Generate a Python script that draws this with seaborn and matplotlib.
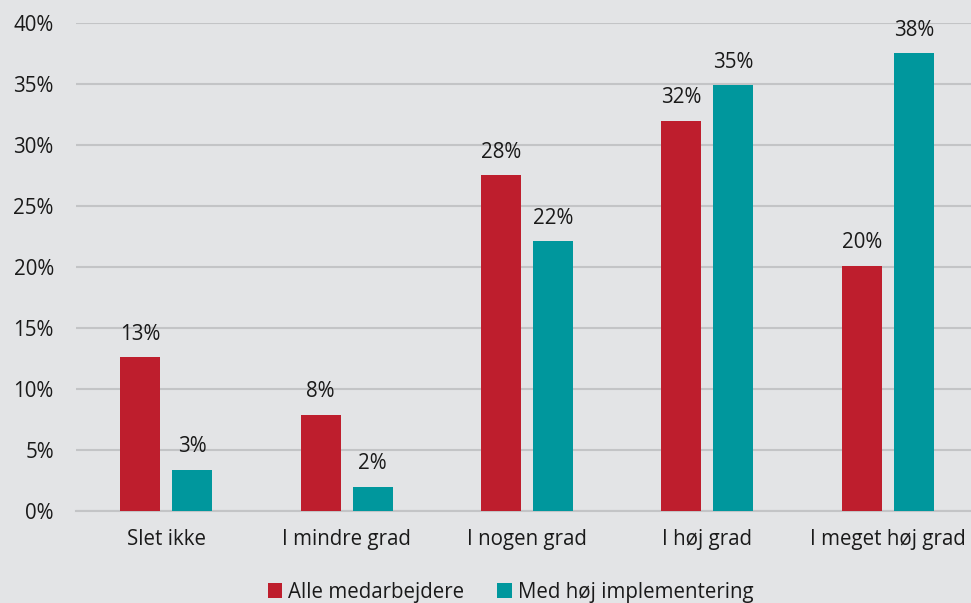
import matplotlib
matplotlib.use("Agg")
import matplotlib.pyplot as plt
import seaborn as sns
import pandas as pd
from matplotlib.patches import Patch

categories = ["Slet ikke", "I mindre grad", "I nogen grad", "I høj grad", "I meget høj grad"]
series_names = ["Alle medarbejdere", "Med høj implementering"]
alle = [12.6, 7.9, 27.5, 32.0, 20.1]
hoej = [3.4, 2.0, 22.1, 34.9, 37.5]
yticks = [0, 5, 10, 15, 20, 25, 30, 35, 40]

colors = ["#be1e2d", "#00979d"]
bg = "#e3e4e6"

df = pd.DataFrame({
    "kategori": categories * 2,
    "serie": [series_names[0]] * len(categories) + [series_names[1]] * len(categories),
    "vaerdi": alle + hoej,
})

sns.set_theme(style="white")
plt.rcParams["font.family"] = ["Open Sans", "DejaVu Sans"]

fs = 14.8
fig = plt.figure(figsize=(9.71, 6.03), dpi=100)
fig.patch.set_facecolor(bg)
ax = fig.add_axes([0.0783, 0.1526, 0.929, 0.8093])
ax.set_facecolor(bg)

sns.barplot(data=df, x="kategori", y="vaerdi", hue="serie", order=categories,
            hue_order=series_names, palette=colors, width=0.576, gap=0.23,
            saturation=1, ax=ax, legend=False, zorder=3, linewidth=0,
            edgecolor="none")

for c in ax.containers:
    ax.bar_label(c, labels=[f"{round(v.get_height()):.0f}%" for v in c],
                 padding=9, fontsize=fs, color="#1a1a1a")

ax.set_ylim(0, 40)
ax.set_yticks(yticks)
ax.set_yticklabels([f"{t}%" for t in yticks], fontsize=fs, color="#1a1a1a")
ax.tick_params(axis="x", labelsize=fs, colors="#1a1a1a", length=0, pad=13)
ax.tick_params(axis="y", length=0, pad=16)
ax.yaxis.grid(True, color="#c3c4c6", linewidth=1.5, zorder=0)
ax.set_axisbelow(True)
for s in ["top", "right", "left"]:
    ax.spines[s].set_visible(False)
ax.spines["bottom"].set_color("#c3c4c6")
ax.spines["bottom"].set_linewidth(1.5)
ax.set_xlabel("")
ax.set_ylabel("")

handles = [Patch(facecolor=colors[i], edgecolor="none", label=series_names[i]) for i in range(2)]
fig.legend(handles=handles, loc="center", bbox_to_anchor=(0.526, 0.018), ncol=2,
           frameon=False, fontsize=fs, handlelength=0.7, handleheight=0.7,
           handletextpad=0.3, columnspacing=1.6, labelcolor="#1a1a1a")

fig.savefig("out.png", dpi=100, facecolor=bg)
